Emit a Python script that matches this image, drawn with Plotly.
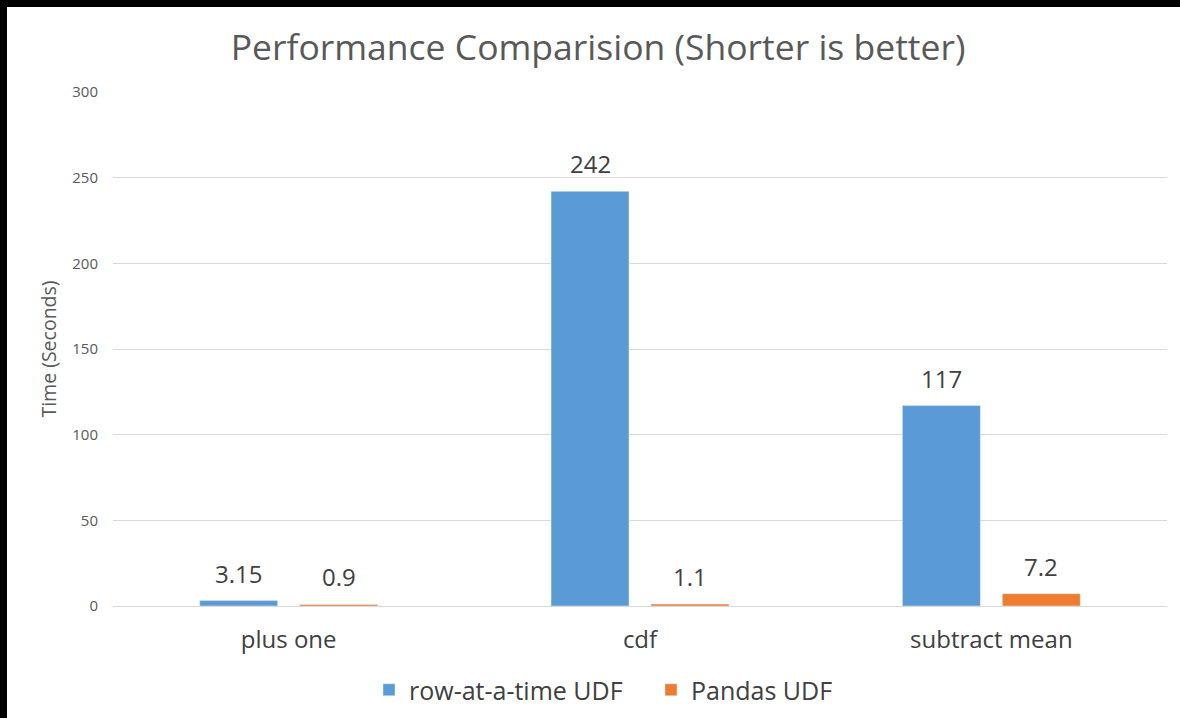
import plotly.graph_objects as go

categories = ["plus one", "cdf", "subtract mean"]
row_udf = [3.15, 242, 117]
pandas_udf = [0.9, 1.1, 7.2]
row_labels = ["3.15", "242", "117"]
pandas_labels = ["0.9", "1.1", "7.2"]
y_ticks = [0, 50, 100, 150, 200, 250, 300]

FONT = "Segoe UI, Open Sans, sans-serif"
W, H = 1180, 718
L, R, T, B = 113, 13, 92, 112
pw, ph = W - L - R, H - T - B
BARGAP, GROUPGAP = 0.431, 0.22
BLUE, ORANGE = "#5B9BD5", "#ED7D31"


def px_x(p):
    return (p - L) / pw


def px_y(p):
    return (H - B - p) / ph


fig = go.Figure()
fig.add_trace(go.Bar(x=categories, y=row_udf, name="row-at-a-time UDF",
                     marker=dict(color=BLUE)))
fig.add_trace(go.Bar(x=categories, y=pandas_udf, name="Pandas UDF",
                     marker=dict(color=ORANGE)))

# value labels above each bar
cat_px = pw / len(categories)
slot = cat_px * (1 - BARGAP) / 2
for vals, labels, side in ((row_udf, row_labels, -1), (pandas_udf, pandas_labels, 1)):
    for c, v, t in zip(categories, vals, labels):
        fig.add_annotation(x=c, y=v, xref="x", yref="y", text=t,
                           showarrow=False, xanchor="center", yanchor="bottom",
                           xshift=side * slot / 2, yshift=9,
                           font=dict(size=24, color="#404040", family=FONT))

# black border at top and left (photo crop)
fig.add_shape(type="rect", xref="paper", yref="paper",
              x0=px_x(-5), x1=px_x(W + 5), y0=px_y(7), y1=px_y(-5),
              fillcolor="black", line_width=0, layer="above")
fig.add_shape(type="rect", xref="paper", yref="paper",
              x0=px_x(-5), x1=px_x(7), y0=px_y(H + 5), y1=px_y(-5),
              fillcolor="black", line_width=0, layer="above")

fig.update_layout(
    width=W, height=H,
    margin=dict(l=L, r=R, t=T, b=B, autoexpand=False),
    paper_bgcolor="white", plot_bgcolor="white",
    font=dict(family=FONT, color="#595959"),
    title=dict(text="Performance Comparision (Shorter is better)",
               x=598 / W, xanchor="center",
               y=1 - 48 / H, yanchor="middle",
               font=dict(size=35.5, color="#595959", family=FONT)),
    barmode="group", bargap=BARGAP, bargroupgap=GROUPGAP,
    showlegend=True,
    legend=dict(orientation="h", x=px_x(369), xanchor="left",
                y=px_y(690), yanchor="middle",
                font=dict(size=25, color="#404040", family=FONT),
                entrywidth=237, traceorder="normal"),
)
fig.update_yaxes(
    range=[0, 300], tickvals=y_ticks, ticktext=[str(v) for v in y_ticks],
    showgrid=True, gridcolor="#D9D9D9", gridwidth=1,
    zeroline=True, zerolinecolor="#D9D9D9", zerolinewidth=1,
    showline=False, ticks="", automargin=False,
    tickfont=dict(size=15, color="#595959", family=FONT),
    ticklabelstandoff=14,
    title=dict(text="Time (Seconds)", standoff=10,
               font=dict(size=19.5, color="#595959", family=FONT)),
)
fig.update_xaxes(
    showgrid=False, showline=False, ticks="", automargin=False,
    tickfont=dict(size=24, color="#404040", family=FONT),
    ticklabelstandoff=17,
)

fig.write_html("out.html", config={"displayModeBar": False},
               post_script="document.body.style.margin='0';document.body.style.overflow='hidden';")
